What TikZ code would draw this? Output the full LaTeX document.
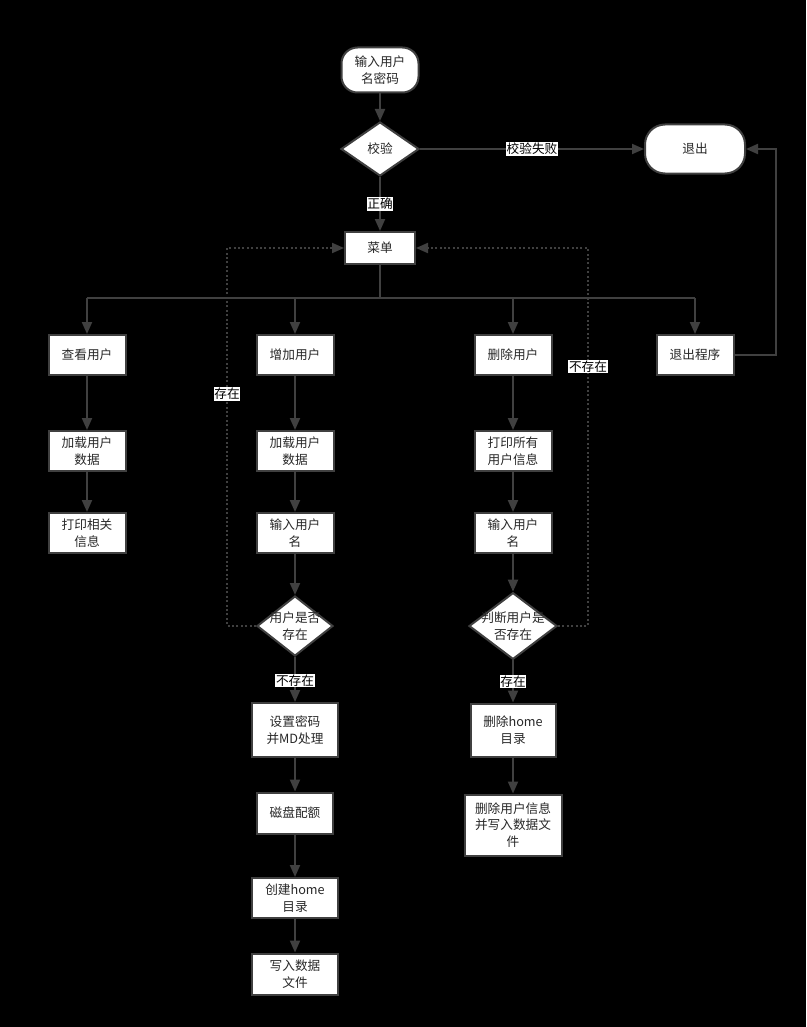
\documentclass[tikz,border=0pt]{standalone}
\usepackage{fontspec}
\setmainfont{Noto Sans CJK SC}
\usetikzlibrary{arrows.meta,shapes.geometric}
\definecolor{lc}{RGB}{64,64,64}
\definecolor{tc}{RGB}{40,40,40}
\begin{document}
\begin{tikzpicture}[x=0.75pt,y=-0.75pt,
  every node/.style={font=\fontsize{9.5}{12.5}\selectfont, text=tc},
  box/.style={draw=lc, fill=white, line width=1.5pt, minimum width=57.75pt, minimum height=30pt, align=center, inner sep=1pt},
  term/.style={box, rounded corners=13pt},
  decision/.style={draw=lc, fill=white, line width=1.5pt, diamond, inner sep=0pt, aspect=1},
  txt/.style={align=center, inner sep=0pt},
  conn/.style={draw=lc, line width=1.5pt, -{Triangle[length=9pt,width=7.5pt]}},
  plain/.style={draw=lc, line width=1.5pt},
  dotline/.style={draw=lc, line width=1.5pt, dash pattern=on 1.5pt off 1.8pt, -{Triangle[length=9pt,width=7.5pt]}},
  lbl/.style={fill=white, inner sep=0.6pt, text=black}]
\fill[black] (0,0) rectangle (806,1027);
\useasboundingbox (0,0) rectangle (806,1027);

% top
\node[term, minimum width=57.75pt, minimum height=33.75pt, rounded corners=12pt] (start) at (380,70) {输入用户\\名密码};
\node[decision, minimum width=58.5pt, minimum height=40.5pt] (chk) at (380,149) {};
\node[txt] at (chk) {校验};
\node[term, minimum width=75pt, minimum height=36.75pt, rounded corners=15pt] (exit) at (695,149) {退出};
\node[box, minimum width=52.5pt, minimum height=24pt] (menu) at (380,248) {菜单};

% branches
\node[box] (v1) at (87,355) {查看用户};
\node[box] (a1) at (295,355) {增加用户};
\node[box] (d1) at (513,355) {删除用户};
\node[box] (q1) at (695,355) {退出程序};

% column 1
\node[box] (v2) at (87,451) {加载用户\\数据};
\node[box] (v3) at (87,533) {打印相关\\信息};

% column 2
\node[box] (a2) at (295,451) {加载用户\\数据};
\node[box] (a3) at (295,533) {输入用户\\名};
\node[decision, minimum width=57pt, minimum height=45pt] (ad) at (295,626) {};
\node[txt] at (ad) {用户是否\\存在};
\node[box, minimum width=64.5pt, minimum height=40.5pt] (a4) at (295,730) {设置密码\\并MD处理};
\node[box, minimum width=57pt, minimum height=30.75pt] (a5) at (295,813) {磁盘配额};
\node[box, minimum width=64.5pt, minimum height=30pt] (a6) at (295,898) {创建home\\目录};
\node[box, minimum width=64.5pt, minimum height=30.75pt] (a7) at (295,974) {写入数据\\文件};

% column 3
\node[box] (d2) at (513,451) {打印所有\\用户信息};
\node[box] (d3) at (513,533) {输入用户\\名};
\node[decision, minimum width=66pt, minimum height=50pt] (dd) at (513,626) {};
\node[txt] at (dd) {判断用户是\\否存在};
\node[box, minimum width=63.75pt, minimum height=39.75pt] (d4) at (513,730) {删除home\\目录};
\node[box, minimum width=72.75pt, minimum height=45.75pt] (d5) at (513,825) {删除用户信息\\并写入数据文\\件};

% connectors top
\draw[conn] (start) -- (chk);
\draw[conn] (chk) -- node[lbl] {校验失败} (exit);
\draw[conn] (chk) -- node[lbl] {正确} (menu);
\coordinate (bus) at (380,298);
\draw[plain] (menu) -- (bus);
\draw[plain] (v1 |- bus) -- (q1 |- bus);
\draw[conn] (v1 |- bus) -- (v1);
\draw[conn] (a1 |- bus) -- (a1);
\draw[conn] (d1 |- bus) -- (d1);
\draw[conn] (q1 |- bus) -- (q1);
\draw[conn] (q1.east) -- ++(41,0) |- (exit.east);

% column connectors
\draw[conn] (v1) -- (v2);
\draw[conn] (v2) -- (v3);
\draw[conn] (a1) -- (a2);
\draw[conn] (a2) -- (a3);
\draw[conn] (a3) -- (ad);
\draw[conn] (ad) -- node[lbl, pos=0.52] {不存在} (a4);
\draw[conn] (a4) -- (a5);
\draw[conn] (a5) -- (a6);
\draw[conn] (a6) -- (a7);
\draw[conn] (d1) -- (d2);
\draw[conn] (d2) -- (d3);
\draw[conn] (d3) -- (dd);
\draw[conn] (dd) -- node[lbl, pos=0.5] {存在} (d4);
\draw[conn] (d4) -- (d5);

% dotted returns
\draw[dotline] (ad.west) -- ++(-29,0) |- node[lbl, pos=0.307] {存在} (menu.west);
\draw[dotline] (dd.east) -- ++(30,0) |- node[lbl, pos=0.343] {不存在} (menu.east);
\end{tikzpicture}
\end{document}
